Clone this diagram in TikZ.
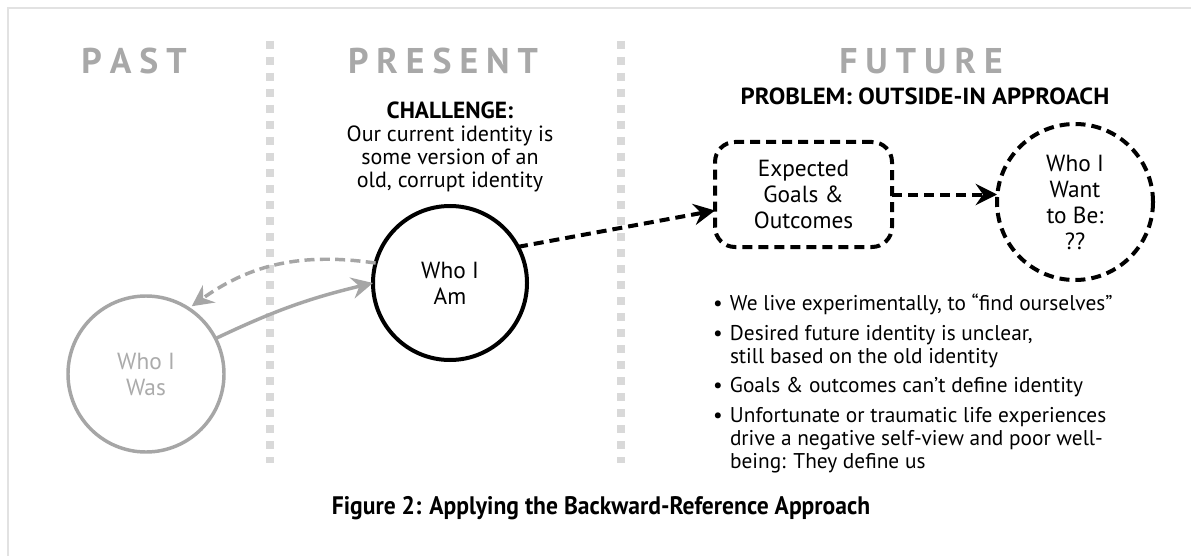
\documentclass[tikz,border=0pt]{standalone}
\usepackage{fontspec}
\usepackage{graphicx}
\setmainfont{PT Sans}
\setsansfont{PT Sans}
\usetikzlibrary{arrows.meta,calc}
\definecolor{lgray}{HTML}{A6A6A6}
\definecolor{txtgray}{HTML}{ABABAB}
\definecolor{hdgray}{HTML}{A8A8A8}
\definecolor{divgray}{HTML}{D9D9D9}
\definecolor{framegray}{HTML}{E2E2E2}
\newcommand\lsp{\kern6pt}
\begin{document}
\begin{tikzpicture}[x=0.75pt,y=-0.75pt,
  every node/.style={inner sep=0pt,outer sep=0pt},
  bodyfont/.style={font=\fontsize{17.5pt}{19.5pt}\selectfont},
  header/.style={text=hdgray,font=\fontsize{26.8pt}{30pt}\selectfont\bfseries},
  divider/.style={draw=divgray,line width=6pt,dash pattern=on 6pt off 6pt},
  arr/.style={-{Stealth[length=16pt,width=16pt,inset=5.5pt]}},
  solidcirc/.style={circle,draw=black,line width=3pt,minimum size=115.5pt,align=center,bodyfont},
  graycirc/.style={circle,draw=lgray,text=txtgray,line width=2.6pt,minimum size=117pt,align=center,bodyfont},
  dashcirc/.style={circle,draw=black,line width=3pt,dash pattern=on 7.5pt off 4.5pt,minimum size=117pt,align=center,bodyfont},
  dashbox/.style={rectangle,rounded corners=15pt,draw=black,line width=3pt,dash pattern=on 7.5pt off 4.5pt,minimum width=132.75pt,minimum height=78.75pt,align=center,bodyfont},
  graystroke/.style={draw=lgray,fill=none,line width=2.6pt},
  graydash/.style={draw=lgray,line width=2.6pt,dash pattern=on 7.5pt off 4pt},
  blackdash/.style={draw=black,line width=3pt,dash pattern=on 7.5pt off 4.5pt}
]
\useasboundingbox (0,0) rectangle (1191,556);
\fill[white] (0,0) rectangle (1191,556);
% frame
\draw[framegray,line width=1.6pt] (8,570) -- (8,8) -- (1200,8);
% dividers
\draw[divider] (270,41) -- (270,463);
\draw[divider] (621,41) -- (621,463);
% headers
\node[header] (past) at (134,61) {P\lsp A\lsp S\lsp T};
\node[header] (present) at (443,61) {P\lsp R\lsp E\lsp S\lsp E\lsp N\lsp T};
\node[header] (future) at (921,61) {F\lsp U\lsp T\lsp U\lsp R\lsp E};
% challenge
\node[font=\fontsize{16.5pt}{17.25pt}\selectfont,align=center,anchor=north] (chal) at (450,101.7)
  {\fontsize{17.5pt}{17.25pt}\selectfont\textbf{CHALLENGE:}\\Our current identity is\\some version of an\\old, corrupt identity};
% problem
\node[font=\fontsize{17.5pt}{19pt}\selectfont\bfseries,anchor=base] (prob) at (925,105) {\scalebox{1.06}[1]{PROBLEM: OUTSIDE-IN APPROACH}};
% main nodes
\node[solidcirc] (am) at (450,283) {Who I\\Am};
\node[graycirc] (was) at (146,374) {Who I\\Was};
\node[dashbox] (goals) at (803.5,194.5) {Expected\\Goals \&\\Outcomes};
\node[dashcirc] (want) at (1075,202) {Who I\\Want\\to Be:\\??};
% connectors
\draw[graystroke,arr] (was.27) to[bend left=6] (am.west);
\draw[graydash,arr,shorten >=3pt] (am.165) to[bend right=22] (was.57);
\draw[blackdash,arr] (am.28) -- ([yshift=-12pt]goals.west);
\draw[blackdash,arr] (goals.east) -- (goals.east -| want.west);
% bullets
\node[anchor=base west,font=\fontsize{16pt}{17.25pt}\selectfont] (bul) at (713,310)
 {\begin{tabular}[t]{@{}l@{}l@{}}
  \makebox[12.75pt][l]{•} & We live experimentally, to “find ourselves”\\[5.25pt]
  • & Desired future identity is unclear,\\
    & still based on the old identity\\[4.5pt]
  • & Goals \& outcomes can’t define identity\\[5.25pt]
  • & Unfortunate or traumatic life experiences\\
    & drive a negative self-view and poor well-\\
    & being: They define us
 \end{tabular}};
% caption
\node[anchor=base,font=\fontsize{19pt}{22pt}\selectfont\bfseries] (cap) at (601,514)
 {\scalebox{0.93}[1]{Figure 2: Applying the Backward-Reference Approach}};
\end{tikzpicture}
\end{document}
